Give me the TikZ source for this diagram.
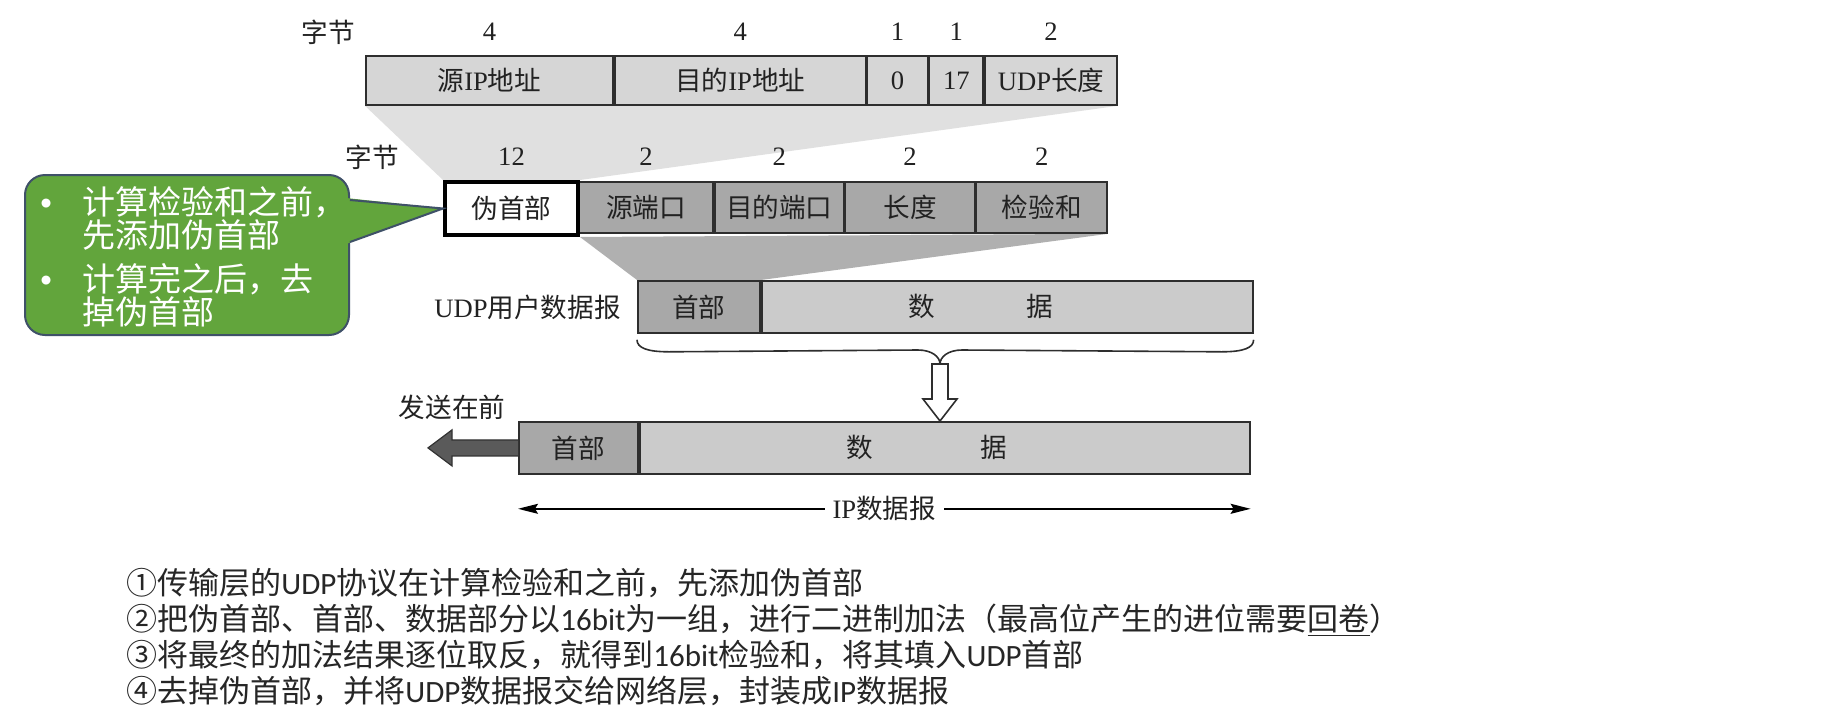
\documentclass[tikz,border=0pt]{standalone}
\usepackage{fontspec}
\setmainfont{Liberation Serif}
\newfontfamily\cjk{Noto Sans CJK SC}
\newfontfamily\calfont{Carlito}
\newfontfamily\bulletfont{Liberation Sans}
\usetikzlibrary{arrows.meta,backgrounds,calc}
\newcommand{\zh}[1]{{\cjk #1}}
\newcommand{\dfont}{\fontsize{13.3}{15}\selectfont}
\definecolor{lightfld}{HTML}{D6D6D6}
\definecolor{lighttrap}{HTML}{E0E0E0}
\definecolor{midfld}{HTML}{A8A8A8}
\definecolor{midtrap}{HTML}{B0B0B0}
\definecolor{datafld}{HTML}{CBCBCB}
\definecolor{callgreen}{HTML}{62A53C}
\definecolor{callborder}{HTML}{3F5168}
\definecolor{linegray}{HTML}{2E2E2E}
\definecolor{darkarrow}{HTML}{5A5A5A}
\definecolor{txtgray}{HTML}{222222}
\begin{document}
\begin{tikzpicture}[x=0.5pt,y=-0.5pt,
  fld/.style={draw=linegray, line width=0.9pt, rectangle, inner sep=0pt, anchor=north west, font=\dfont, text=txtgray},
  lbl/.style={inner sep=0pt, font=\dfont, text=txtgray},
  calltxt/.style={inner sep=0pt, anchor=base west, text=white, font=\cjk\fontsize{16.5}{18}\selectfont},
  btxt/.style={inner sep=0pt, anchor=base west, text=black!85, font=\cjk\fontsize{15.5}{18}\selectfont},
  brace/.style={draw=linegray, line width=0.8pt},
  hollow/.style={draw=linegray, line width=0.8pt, fill=white, line join=miter},
  dimline/.style={line width=0.7pt, draw=black, {Stealth[length=10pt,width=5pt,inset=1.5pt]}-{Stealth[length=10pt,width=5pt,inset=1.5pt]}}
]
\useasboundingbox (0,0) rectangle (1846,723);

% ---------- top row: pseudo header fields ----------
\node[lbl] (zj1) at (328,32) {\zh{字节}};
\node[fld, fill=lightfld, minimum width=123.5pt, minimum height=24.5pt] (sip) at (365,55) {\zh{源}IP\zh{地址}};
\node[fld, fill=lightfld, minimum width=125.5pt, minimum height=24.5pt] (dip) at (sip.north east) {\zh{目的}IP\zh{地址}};
\node[fld, fill=lightfld, minimum width=30pt, minimum height=24.5pt] (zero) at (dip.north east) {0};
\node[fld, fill=lightfld, minimum width=27pt, minimum height=24.5pt] (proto) at (zero.north east) {17};
\node[fld, fill=lightfld, minimum width=66pt, minimum height=24.5pt] (ulen) at (proto.north east) {UDP\zh{长度}};
\node[lbl] (n1) at ([yshift=11.5pt]sip.north) {4};
\node[lbl] (n2) at ([yshift=11.5pt]dip.north) {4};
\node[lbl] (n3) at ([yshift=11.5pt]zero.north) {1};
\node[lbl] (n4) at ([yshift=11.5pt]proto.north) {1};
\node[lbl] (n5) at ([yshift=11.5pt]ulen.north) {2};

% ---------- second row: UDP header with pseudo header ----------
\node[lbl] (zj2) at (372,157) {\zh{字节}};
\node[fld, fill=midfld, minimum width=67pt, minimum height=25.5pt] (sport) at (578,181) {\zh{源端口}};
\node[fld, fill=midfld, minimum width=64.5pt, minimum height=25.5pt] (dport) at (sport.north east) {\zh{目的端口}};
\node[fld, fill=midfld, minimum width=64.5pt, minimum height=25.5pt] (len) at (dport.north east) {\zh{长度}};
\node[fld, fill=midfld, minimum width=65.5pt, minimum height=25.5pt] (ck) at (len.north east) {\zh{检验和}};
\node[fld, fill=white, draw=black, line width=2pt, minimum width=66.5pt, minimum height=26.5pt] (ph) at (443,180) {\zh{伪首部}};
\node[lbl] (m1) at ([yshift=11.5pt]ph.north) {12};
\node[lbl] (m2) at ([yshift=12pt]sport.north) {2};
\node[lbl] (m3) at ([yshift=12pt]dport.north) {2};
\node[lbl] (m4) at ([yshift=12pt]len.north) {2};
\node[lbl] (m5) at ([yshift=12pt]ck.north) {2};

% ---------- UDP datagram ----------
\node[fld, fill=midfld, minimum width=61pt, minimum height=26pt] (uh) at (637,280) {\zh{首部}};
\node[fld, fill=datafld, minimum width=245.5pt, minimum height=26pt] (ud) at (uh.north east) {};
\node[lbl] (uda) at (922,306) {\zh{数}};
\node[lbl] (udb) at (1040,306) {\zh{据}};
\node[lbl, anchor=east] (udplbl) at ([xshift=-8pt]uh.west) {UDP\zh{用户数据报}};

% ---------- IP datagram ----------
\node[fld, fill=midfld, minimum width=59.5pt, minimum height=26pt] (ih) at (518,421) {\zh{首部}};
\node[fld, fill=datafld, minimum width=305pt, minimum height=26pt] (id) at (ih.north east) {};
\node[lbl] (ida) at (860,447) {\zh{数}};
\node[lbl] (idb) at (994,447) {\zh{据}};
\node[lbl] (send) at (452,407) {\zh{发送在前}};

% ---------- background and expansion wedges ----------
\begin{scope}[on background layer]
\fill[white] (0,0) rectangle (1846,723);
\fill[lighttrap] (sip.south west) -- (ulen.south east) -- (ph.north east) -- (ph.north west) -- cycle;
\fill[midtrap] (ph.south east) -- (ck.south east) -- (uh.north east) -- (uh.north west) -- cycle;
\end{scope}

% ---------- brace ----------
\coordinate (brl) at ([yshift=-3pt]uh.south west);
\coordinate (brr) at ([yshift=-3pt]ud.south east);
\coordinate (brt) at (940,364);
\draw[brace] (brl) .. controls +(0,8) and +(-22,0) .. ($(brl)+(32,12)$)
  -- ($(brt)+(-22,-14)$) .. controls +(14,0) and +(0,-7) .. (brt)
  .. controls +(0,-7) and +(-14,0) .. ($(brt)+(22,-14)$)
  -- ($(brr)+(-32,12)$) .. controls +(22,0) and +(0,8) .. (brr);

% ---------- hollow arrow down ----------
\coordinate (hat) at (brt |- id.north);
\draw[hollow] ($(brt)+(-8,0)$) -- ($(hat)+(-8,-22)$) -- ($(hat)+(-17,-22)$) -- (hat)
  -- ($(hat)+(17,-22)$) -- ($(hat)+(8,-22)$) -- ($(brt)+(8,0)$) -- cycle;

% ---------- sending-first arrow ----------
\coordinate (dat) at ($(ih.west)+(-90,0)$);
\draw[fill=darkarrow, draw=black!80, line width=0.6pt, line join=miter]
  ($(ih.west)+(0,-8)$) -- ($(ih.west)+(-66,-8)$) -- ($(ih.west)+(-66,-18)$) -- (dat)
  -- ($(ih.west)+(-66,18)$) -- ($(ih.west)+(-66,8)$) -- ($(ih.west)+(0,8)$);

% ---------- IP datagram dimension ----------
\coordinate (ipl) at ([yshift=-17pt]ih.south west);
\coordinate (ipr) at ([yshift=-17pt]id.south east);
\draw[dimline] (ipl) -- (ipr);
\node[lbl, fill=white, inner sep=4pt] (iplbl) at ($(ipl)!0.5!(ipr)$) {IP\zh{数据报}};

% ---------- callout ----------
\node[draw=callborder, fill=callgreen, line width=1pt, rounded corners=10pt,
      minimum width=162pt, minimum height=80pt, anchor=north west, inner sep=0pt] (callout) at (24,174) {};
\fill[callgreen] ([xshift=-2pt,yshift=-12pt]callout.north east) -- (ph.west) -- ([xshift=-2pt,yshift=-35pt]callout.north east) -- cycle;
\draw[callborder, line width=1pt] ([yshift=-13pt]callout.north east) -- (ph.west) -- ([yshift=-34pt]callout.north east);
\node[calltxt] (ct1) at (40,214) {\makebox[21pt][l]{\bulletfont •}计算检验和之前，};
\node[calltxt] (ct2) at (82,247) {先添加伪首部};
\node[calltxt] (ct3) at (40,291) {\makebox[21pt][l]{\bulletfont •}计算完之后，去};
\node[calltxt] (ct4) at (82,324) {掉伪首部};

% ---------- steps ----------
\node[btxt] (l1) at (126,594) {①传输层的{\calfont UDP}协议在计算检验和之前，先添加伪首部};
\node[btxt] (l2) at (126,630) {②把伪首部、首部、数据部分以{\calfont 16bit}为一组，进行二进制加法（最高位产生的进位需要\underline{回卷}）};
\node[btxt] (l3) at (126,666) {③将最终的加法结果逐位取反，就得到{\calfont 16bit}检验和，将其填入{\calfont UDP}首部};
\node[btxt] (l4) at (126,702) {④去掉伪首部，并将{\calfont UDP}数据报交给网络层，封装成{\calfont IP}数据报};
\end{tikzpicture}
\end{document}
